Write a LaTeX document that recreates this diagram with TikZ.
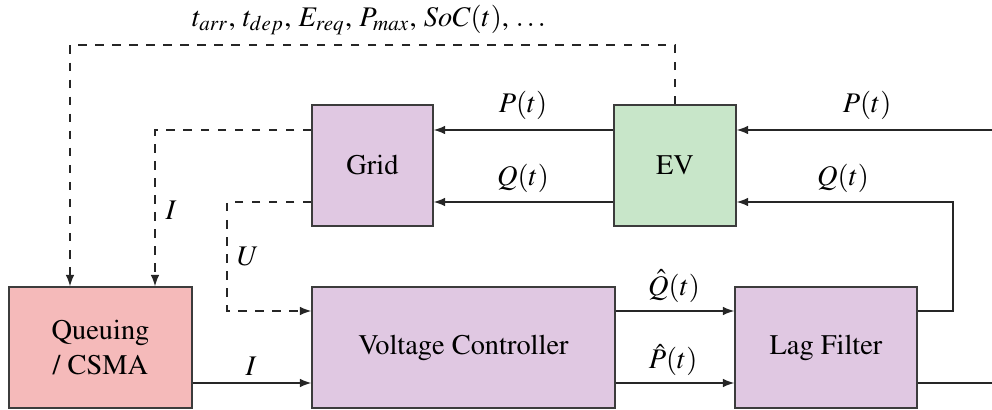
\documentclass[tikz,border=0pt]{standalone}
\usepackage[T1]{fontenc}
\usepackage{mathptmx}
\usetikzlibrary{arrows.meta,calc}
\newdimen\pxu \pxu=0.352pt
\definecolor{boxpurple}{RGB}{224,200,226}
\definecolor{boxgreen}{RGB}{200,230,201}
\definecolor{boxred}{RGB}{245,186,186}
\definecolor{linegray}{RGB}{60,60,60}
\begin{document}
\begin{tikzpicture}[x=0.352pt,y=-0.352pt,
  blk/.style={draw=linegray,line width=0.5pt,rectangle,inner sep=0pt,minimum height=121\pxu,align=center,font=\normalsize},
  conn/.style={draw=black!85,line width=0.45pt,-{Latex[length=4pt,width=3pt]}},
  dconn/.style={conn,dashed},
  lbl/.style={inner sep=0pt,font=\normalsize}]
\useasboundingbox (0,0) rectangle (992,410);
% blocks
\node[blk,fill=boxpurple,minimum width=121\pxu] (grid) at (372.5,165.5) {Grid};
\node[blk,fill=boxgreen,minimum width=122\pxu] (ev) at (675,165.5) {EV};
\node[blk,fill=boxred,minimum width=183\pxu] (queue) at (100.5,347.5) {Queuing\\/ CSMA};
\node[blk,fill=boxpurple,minimum width=303\pxu] (vc) at (463.5,347.5) {Voltage Controller};
\node[blk,fill=boxpurple,minimum width=182\pxu] (lag) at (826,347.5) {Lag Filter};
% helper coordinates
\coordinate (yP) at (0,130);
\coordinate (yQ) at (0,202);
\coordinate (yQh) at (0,311);
\coordinate (yPh) at (0,383);
\coordinate (inP) at (992,130);
\coordinate (outP) at (992,383);
\coordinate (topL) at (70,45);
\coordinate (iI) at (155,130);
\coordinate (uU) at (227,202);
\coordinate (fb) at (953,311);
% connectors
\draw[conn] (inP) -- (ev.east |- yP);
\draw[conn] (ev.west |- yP) -- (grid.east |- yP);
\draw[conn] (ev.west |- yQ) -- (grid.east |- yQ);
\draw[conn] (lag.east |- yQh) -- (fb) |- (ev.east |- yQ);
\draw[conn] (vc.east |- yQh) -- (lag.west |- yQh);
\draw[conn] (vc.east |- yPh) -- (lag.west |- yPh);
\draw[conn,-] (lag.east |- yPh) -- (outP);
\draw[conn] (queue.east |- yPh) -- (vc.west |- yPh);
\draw[dconn] (ev.north) |- (topL) -- (topL |- queue.north);
\draw[dconn] (grid.west |- yP) -- (iI) -- (iI |- queue.north);
\draw[dconn] (grid.west |- yQ) -- (uU) |- (vc.west |- yQh);
% labels
\node[lbl] (lTop) at (369,20) {$t_{arr}$, $t_{dep}$, $E_{req}$, $P_{max}$, $SoC(t)$, $\ldots$};
\node[lbl] (lP1) at (523,105) {$P(t)$};
\node[lbl] (lQ1) at (523,178) {$Q(t)$};
\node[lbl] (lP2) at (867,105) {$P(t)$};
\node[lbl] (lQ2) at (843,178) {$Q(t)$};
\node[lbl] (lI1) at (171,210) {$I$};
\node[lbl] (lU) at (248,257) {$U$};
\node[lbl] (lI2) at (251,366) {$I$};
\node[lbl] (lQh) at (674,286) {$\hat{Q}(t)$};
\node[lbl] (lPh) at (673,360) {$\hat{P}(t)$};
\end{tikzpicture}
\end{document}
